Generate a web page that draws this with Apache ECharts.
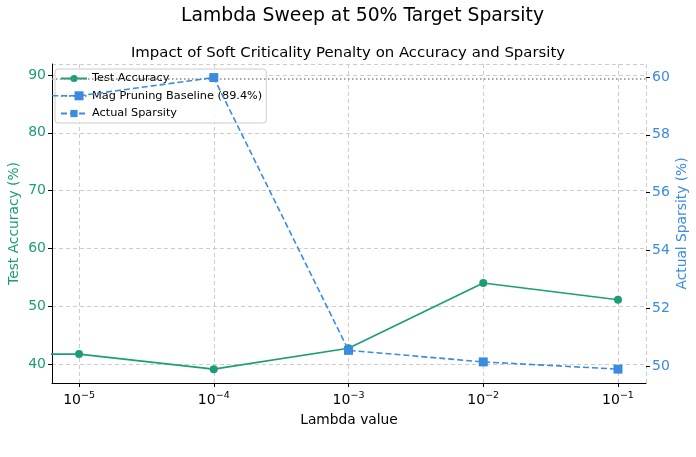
<!DOCTYPE html>
<html>
<head>
<meta charset="utf-8">
<script src="https://cdn.jsdelivr.net/npm/echarts@6/dist/echarts.min.js"></script>
<style>
  html, body { margin: 0; padding: 0; background: #fff; }
  #chart { width: 696px; height: 457px; }
</style>
</head>
<body>
<div id="chart"></div>
<script>
// data
var lambdas = [1e-6, 1e-5, 1e-4, 1e-3, 1e-2, 1e-1];
var testAccuracy = [41.7, 41.7, 39.1, 42.7, 54.0, 51.1];
var actualSparsity = [59.35, 59.35, 59.98, 50.54, 50.14, 49.89];
var baselineAcc = 89.4;

var green = '#1b9e77';
var blue = '#3b8be0';
var font = 'DejaVu Sans';

function pairs(xs, ys) {
  var out = [];
  for (var i = 0; i < xs.length; i++) out.push([xs[i], ys[i]]);
  return out;
}

// 10^n labels with superscript
function logLabel(v) {
  var e = Math.round(Math.log10(v));
  return '{b|10}{s|' + (e < 0 ? '\u2212' + (-e) : e) + '}';
}

var chart = echarts.init(document.getElementById('chart'));

var splitStyle = { color: '#ccc', type: [4, 3] };

var option = {
  animation: false,
  textStyle: { fontFamily: font },
  title: [
    {
      text: 'Lambda Sweep at 50% Target Sparsity',
      left: 176, top: 2,
      textStyle: { fontFamily: font, fontSize: 18.8, fontWeight: 'normal', color: '#000' }
    },
    {
      text: 'Impact of Soft Criticality Penalty on Accuracy and Sparsity',
      left: 'center', top: 41,
      textStyle: { fontFamily: font, fontSize: 14.9, fontWeight: 'normal', color: '#000' }
    }
  ],
  legend: {
    orient: 'vertical',
    left: 55, top: 69,
    z: 4,
    itemGap: 6.5,
    itemWidth: 26,
    itemHeight: 9,
    padding: [4, 4, 4, 5],
    backgroundColor: 'rgba(255,255,255,0.8)',
    borderColor: '#ccc',
    borderWidth: 1,
    borderRadius: 3,
    textStyle: { fontFamily: font, fontSize: 11.3, color: '#000' },
    data: ['Test Accuracy', 'Mag Pruning Baseline (89.4%)', 'Actual Sparsity']
  },
  grid: { left: 52, right: 50, top: 64, bottom: 74, outerBoundsMode: 'none', containLabel: false },
  xAxis: {
    type: 'log',
    logBase: 10,
    min: 6.3e-6,
    max: 0.1614,
    name: 'Lambda value',
    nameLocation: 'middle',
    nameGap: 30,
    nameTextStyle: { fontFamily: font, fontSize: 13.8, color: '#000' },
    axisLine: { lineStyle: { color: '#000', width: 1 } },
    axisTick: { length: 4, lineStyle: { color: '#000' } },
    axisLabel: {
      showMinLabel: false, showMaxLabel: false,
      margin: 8,
      formatter: logLabel,
      rich: {
        b: { fontFamily: font, fontSize: 14, color: '#000' },
        s: { fontFamily: font, fontSize: 9.5, color: '#000', padding: [0, 0, 9, 0] }
      }
    },
    splitLine: { show: true, lineStyle: splitStyle }
  },
  yAxis: [
    {
      type: 'value',
      min: 36.7, max: 91.9,
      splitNumber: 5,
      name: 'Test Accuracy (%)',
      nameLocation: 'middle',
      nameGap: 31,
      nameMoveOverlap: false,
      nameTextStyle: { fontFamily: font, fontSize: 13.8, color: green },
      axisLine: { show: true, lineStyle: { color: '#000', width: 1 } },
      axisTick: { show: true, length: 4, lineStyle: { color: '#000' } },
      axisLabel: { showMinLabel: false, showMaxLabel: false, fontSize: 14, color: green, margin: 6 },
      splitLine: { show: true, lineStyle: splitStyle }
    },
    {
      type: 'value',
      min: 49.41, max: 60.45,
      splitNumber: 5,
      position: 'right',
      name: 'Actual Sparsity (%)',
      nameLocation: 'middle',
      nameGap: 29,
      nameMoveOverlap: false,
      nameRotate: 90,
      nameTextStyle: { fontFamily: font, fontSize: 13.8, color: blue },
      axisLine: { show: false },
      axisTick: { show: true, length: 4, lineStyle: { color: '#000' } },
      axisLabel: { showMinLabel: false, showMaxLabel: false, fontSize: 14, color: blue, margin: 6 },
      splitLine: { show: false }
    }
  ],
  series: [
    {
      name: 'Test Accuracy',
      type: 'line',
      yAxisIndex: 0,
      data: pairs(lambdas, testAccuracy),
      symbol: 'circle',
      symbolSize: 8,
      color: green,
      lineStyle: { color: green, width: 1.6 },
      itemStyle: { color: green },
      z: 3
    },
    {
      // baseline only drawn as a markLine
      name: 'Mag Pruning Baseline (89.4%)',
      type: 'line',
      yAxisIndex: 0,
      data: [],
      symbol: 'none',
      color: '#888',
      itemStyle: { color: '#888', opacity: 0 },
      lineStyle: { color: '#888', width: 1.5, type: [1.5, 2.5] },
      markLine: {
        silent: true,
        symbol: ['none', 'none'],
        label: { show: false },
        lineStyle: { color: '#888', width: 1.5, type: [1.5, 2.5], opacity: 1 },
        data: [{ yAxis: baselineAcc }]
      }
    },
    {
      // twin axis series sits above the legend, like the original
      name: 'Actual Sparsity',
      type: 'line',
      yAxisIndex: 1,
      data: pairs(lambdas, actualSparsity),
      symbol: 'rect',
      symbolSize: 9,
      color: blue,
      lineStyle: { color: blue, width: 1.6, type: [6, 3] },
      itemStyle: { color: blue },
      z: 6
    }
  ]
};

chart.setOption(option);
</script>
</body>
</html>
